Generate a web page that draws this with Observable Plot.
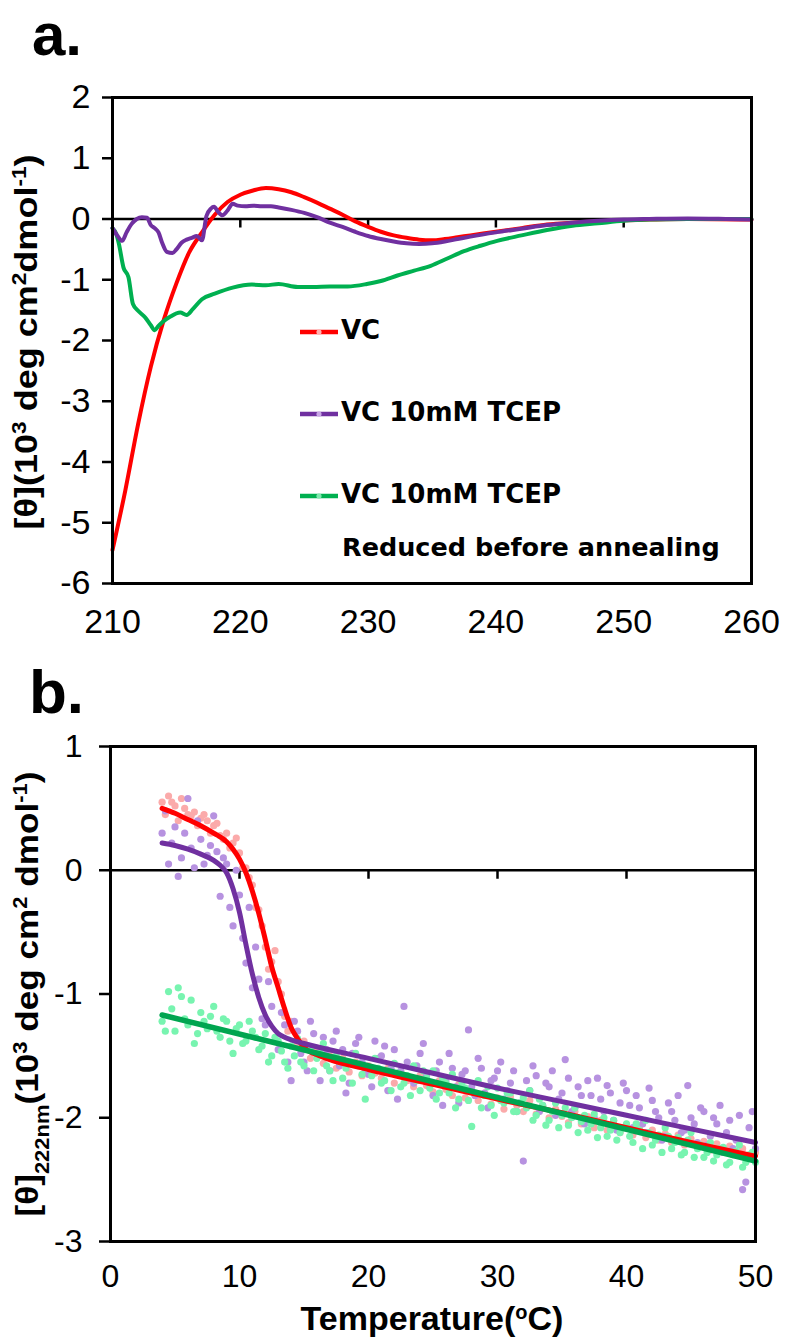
<!DOCTYPE html>
<html><head><meta charset="utf-8">
<script src="https://cdn.jsdelivr.net/npm/d3@7"></script>
<script src="https://cdn.jsdelivr.net/npm/@observablehq/plot@0.6"></script>
<style>
body{margin:0;background:#fff;}
#wrap{position:relative;width:786px;height:1342px;overflow:hidden;background:#fff;}
#pa{position:absolute;left:0;top:0;}
#pb{position:absolute;left:0;top:660px;}
.plabel{position:absolute;font-family:"Liberation Sans",Arial,sans-serif;font-weight:bold;line-height:50px;height:50px;color:#000;white-space:nowrap;}
</style></head><body><div id="wrap"><div id="pa"></div><div id="pb"></div>
<div class="plabel" id="labA" style="left:32px;top:10px;font-size:60px;">a.</div>
<div class="plabel" id="labB" style="left:29px;top:667px;font-size:62px;">b.</div>
</div>
<script>
// ---------- Panel a: CD spectra ----------
const waveTicks = [210, 220, 230, 240, 250, 260];
const zeroTicksA = [220, 230, 240, 250];
const thetaTicksA = [-6, -5, -4, -3, -2, -1, 0, 1, 2];

const vcWave = [210,211,212,213,214,215,216,217,218,219,220,221,222,223,224,225,226,227,228,229,230,231,232,233,234,235,236,237,238,240,242,244,246,248,250,252,255,260];
const vcTheta = [-5.45,-4.47,-3.38,-2.43,-1.67,-1.06,-0.55,-0.22,0.07,0.28,0.40,0.47,0.51,0.49,0.44,0.36,0.27,0.17,0.07,-0.04,-0.13,-0.21,-0.27,-0.31,-0.34,-0.35,-0.33,-0.30,-0.27,-0.21,-0.15,-0.09,-0.06,-0.04,-0.02,-0.01,0.0,-0.01];

const tcepWave = [210,210.4,210.75,211.1,211.5,211.9,212.3,212.7,213.0,213.3,213.6,213.9,214.25,214.7,215.0,215.4,215.8,216.2,216.6,217.0,217.35,217.7,217.95,218.25,218.6,219.0,219.4,219.8,220.4,221,221.7,222.4,223,224,225,226,227,228,229,230,231,232,233,234,235,236,237,238,240,242,244,246,248,250,252,255,258,260];
const tcepTheta = [-0.15,-0.28,-0.36,-0.22,-0.08,0.0,0.03,0.02,-0.10,-0.15,-0.22,-0.40,-0.54,-0.56,-0.50,-0.39,-0.34,-0.31,-0.28,-0.35,0.05,0.17,0.20,0.12,0.06,0.14,0.25,0.22,0.21,0.22,0.21,0.21,0.19,0.15,0.10,0.03,-0.06,-0.13,-0.21,-0.28,-0.33,-0.37,-0.40,-0.41,-0.40,-0.37,-0.33,-0.29,-0.22,-0.16,-0.10,-0.06,-0.03,-0.01,0.0,0.01,0.0,-0.01];

const redWave = [210,210.3,210.5,210.86,211.25,211.6,212.0,212.56,213.0,213.3,213.6,213.9,214.5,215.3,215.8,216.3,217.0,218.0,219.4,220.9,222,223,224.5,225.7,227,228.4,229.9,231,232.3,233.6,234.9,236.2,237.5,238.8,240.1,242,244,246,248,250,252,255,260];
const redTheta = [-0.15,-0.25,-0.41,-0.80,-0.96,-1.40,-1.51,-1.62,-1.75,-1.83,-1.76,-1.70,-1.61,-1.54,-1.58,-1.48,-1.32,-1.23,-1.13,-1.08,-1.09,-1.07,-1.12,-1.12,-1.11,-1.11,-1.07,-1.02,-0.93,-0.85,-0.77,-0.65,-0.53,-0.44,-0.36,-0.27,-0.18,-0.11,-0.07,-0.03,-0.01,0.0,0.0];

const seriesNamesA = ["VC", "VC 10mM TCEP", "VC 10mM TCEP"];
const legendNoteA = "Reduced before annealing";

// ---------- Panel b: thermal melts ----------
const tempTicks = [0, 10, 20, 30, 40, 50];
const zeroTicksB = [10, 20, 30, 40];
const thetaTicksB = [-3, -2, -1, 0, 1];

const tHalf = [4,4.5,5,5.5,6,6.5,7,7.5,8,8.5,9,9.5,10,10.5,11,11.5,12,12.5,13,13.5,14,14.5,15,15.5,16,16.5,17,17.5,18,18.5,19,19.5,20,20.5,21,21.5,22,22.5,23,23.5,24,24.5,25,25.5,26,26.5,27,27.5,28,28.5,29,29.5,30,30.5,31,31.5,32,32.5,33,33.5,34,34.5,35,35.5,36,36.5,37,37.5,38,38.5,39,39.5,40,40.5,41,41.5,42,42.5,43,43.5,44,44.5,45,45.5,46,46.5,47,47.5,48,48.5,49,49.5,50];
const tQuarter = [4.25,4.75,5.25,5.75,6.25,6.75,7.25,7.75,8.25,8.75,9.25,9.75,10.25,10.75,11.25,11.75,12.25,12.75,13.25,13.75,14.25,14.75,15.25,15.75,16.25,16.75,17.25,17.75,18.25,18.75,19.25,19.75,20.25,20.75,21.25,21.75,22.25,22.75,23.25,23.75,24.25,24.75,25.25,25.75,26.25,26.75,27.25,27.75,28.25,28.75,29.25,29.75,30.25,30.75,31.25,31.75,32.25,32.75,33.25,33.75,34.25,34.75,35.25,35.75,36.25,36.75,37.25,37.75,38.25,38.75,39.25,39.75,40.25,40.75,41.25,41.75,42.25,42.75,43.25,43.75,44.25,44.75,45.25,45.75,46.25,46.75,47.25,47.75,48.25,48.75,49.25,49.75];

const vcPoints = [0.55,0.60,0.52,0.58,0.45,0.47,0.42,0.40,0.36,0.28, 0.30,0.22,0.14,0.02,-0.12,-0.32,-0.62,-0.74,-0.90,-1.18, -1.22,-1.40,-1.38,-1.52,-1.44,-1.56,-1.50,-1.60,-1.52,-1.63, -1.55,-1.66,-1.58,-1.64,-1.68,-1.60,-1.72,-1.63,-1.70,-1.75, -1.66,-1.74,-1.79,-1.70,-1.77,-1.82,-1.73,-1.84,-1.78,-1.86, -1.80,-1.89,-1.84,-1.93,-1.83,-1.90,-1.95,-1.86,-1.97,-1.91, -2.00,-1.93,-1.99,-2.04,-1.95,-2.05,-1.99,-2.08,-2.02,-2.10, -2.03,-2.12,-2.06,-2.14,-2.08,-2.16,-2.10,-2.18,-2.13,-2.20, -2.14,-2.22,-2.17,-2.24,-2.19,-2.26,-2.21,-2.28,-2.23,-2.30, -2.25,-2.32,-2.28];
const vcExtraT = [4.25,4.75,5.25,5.75,6.25,6.75,7.25,7.75,8.25,8.75,9.25,9.75,10.25,10.75,11.25,11.75,12.25,12.75,13.25,13.75];
const vcExtra = [0.45,0.55,0.40,0.50,0.44,0.36,0.45,0.30,0.38,0.25,0.18,0.26,0.02,-0.06,-0.30,-0.45,-0.80,-0.65,-1.00,-1.30];

const tcepPointsA = [0.30,0.05,0.35,0.10,0.58,0.02,0.25,0.12,0.44,-0.21, 0.05,-0.45,-0.20,-0.75,-0.95,-0.88,-1.25,-1.10,-1.45,-1.25, -1.70,-1.30,-1.55,-1.22,-1.48,-1.35,-1.62,-1.30,-1.45,-1.72, -1.40,-1.55,-1.65,-1.38,-1.50,-1.78,-1.45,-1.62,-1.55,-1.72, -1.48,-1.66,-1.82,-1.55,-1.70,-1.60,-1.88,-1.62,-1.75,-1.52, -1.80,-1.70,-1.62,-1.85,-1.72,-1.95,-2.35,-1.78,-1.66,-1.90, -1.75,-1.98,-1.80,-1.68,-1.92,-1.82,-1.70,-2.00,-1.85,-1.74, -2.02,-1.88,-1.78,-2.08,-1.92,-2.12,-1.86,-2.00,-2.15,-1.95, -1.82,-2.10,-2.00,-2.20,-1.95,-2.15,-2.05,-2.28,-2.02,-2.18, -2.58,-2.08,-2.25];
const tcepPointsB = [0.48,0.22,-0.05,0.30,0.18,0.40,0.05,0.20,0.15,0.10, -0.30,0.00,-0.55,-0.30,-0.62,-1.20,-0.90,-1.38,-1.15,-1.55, -1.22,-1.48,-1.62,-1.32,-1.70,-1.45,-1.38,-1.58,-1.80,-1.48, -1.35,-1.62,-1.75,-1.52,-1.42,-1.60,-1.85,-1.10,-1.68,-1.58, -1.40,-1.72,-1.62,-1.90,-1.48,-1.75,-1.65,-1.29,-1.82,-1.60, -1.92,-1.68,-1.55,-1.78,-1.62,-1.88,-1.70,-1.58,-1.95,-1.72, -1.62,-1.85,-1.53,-1.95,-1.75,-2.05,-1.82,-1.68,-1.95,-1.80, -2.10,-1.72,-1.90,-1.82,-2.05,-1.76,-1.95,-2.18,-1.88,-2.02, -2.12,-1.74,-2.05,-1.92,-2.22,-2.00,-1.90,-2.12,-2.25,-1.98, -2.52,-1.95];

const redPointsA = [-1.22,-0.98,-1.30,-1.02,-1.25,-1.40,-1.15,-1.28,-1.10,-1.35, -1.22,-1.48,-1.25,-1.38,-1.30,-1.45,-1.32,-1.50,-1.38,-1.55, -1.42,-1.36,-1.58,-1.45,-1.52,-1.40,-1.62,-1.50,-1.68,-1.55, -1.48,-1.65,-1.60,-1.52,-1.72,-1.62,-1.56,-1.75,-1.66,-1.58, -1.78,-1.68,-1.62,-1.80,-1.72,-1.65,-1.85,-1.76,-2.07,-1.70, -1.82,-1.90,-1.76,-1.88,-1.80,-1.95,-1.84,-1.78,-1.98,-1.90, -2.02,-1.88,-1.98,-2.06,-1.92,-2.03,-2.10,-1.97,-2.08,-2.15, -2.02,-2.12,-2.05,-2.20,-2.10,-2.02,-2.22,-2.14,-2.08,-2.25, -2.16,-2.28,-2.12,-2.25,-2.32,-2.20,-2.30,-2.24,-2.36,-2.27, -2.40,-2.30,-2.36];
const redPointsB = [-1.30,-1.12,-0.95,-1.20,-1.05,-1.32,-1.22,-1.18,-1.30,-1.20, -1.38,-1.28,-1.40,-1.22,-1.35,-1.42,-1.55,-1.35,-1.46,-1.60, -1.50,-1.55,-1.42,-1.62,-1.48,-1.58,-1.70,-1.55,-1.60,-1.72, -1.58,-1.85,-1.66,-1.60,-1.70,-1.78,-1.64,-1.72,-1.82,-1.70, -1.62,-1.76,-1.85,-1.68,-1.80,-1.92,-1.72,-1.86,-1.80,-1.92, -1.75,-1.98,-1.86,-1.80,-1.95,-1.88,-1.92,-2.02,-1.85,-2.06, -1.95,-2.08,-1.92,-2.00,-2.12,-1.98,-2.05,-2.16,-2.00,-2.10, -2.18,-2.08,-2.15,-2.05,-2.25,-2.12,-2.18,-2.28,-2.15,-2.20, -2.30,-2.18,-2.32,-2.22,-2.28,-2.35,-2.25,-2.38,-2.30,-2.22, -2.36,-2.28];

const vcFitT = [4,5,6,7,8,9,9.5,10,10.5,11,11.5,12,12.5,13,13.5,14,14.5,15,15.5,16,17,20,25,30,35,40,45,50];
const vcFit = [0.50,0.46,0.41,0.36,0.30,0.23,0.17,0.09,-0.02,-0.17,-0.35,-0.56,-0.78,-0.95,-1.12,-1.27,-1.36,-1.43,-1.47,-1.49,-1.53,-1.61,-1.73,-1.85,-1.96,-2.08,-2.20,-2.31];
const tcepFitT = [4,5,6,7,8,8.5,9,9.5,10,10.5,11,11.5,12,12.5,13,13.5,14,15,20,25,30,35,40,45,50];
const tcepFit = [0.22,0.20,0.17,0.13,0.08,0.04,-0.02,-0.15,-0.34,-0.60,-0.84,-1.03,-1.17,-1.26,-1.32,-1.35,-1.37,-1.40,-1.52,-1.64,-1.76,-1.87,-1.98,-2.09,-2.20];
const redFitT = [4, 50];
const redFit = [-1.17, -2.35];

// ---------- helpers ----------
const pts = (xs, ys) => xs.slice(0, Math.min(xs.length, ys.length)).map((x, i) => ({x, y: ys[i]}));
const FONT = "Liberation Sans, Arial, Helvetica, sans-serif";
const LEG = "DejaVu Sans, Verdana, sans-serif";
const C = {red: "#ff0000", purple: "#7030a0", green: "#00b050", pink: "#fbaaaa", lav: "#b792e0", mint: "#78f4b0", green2: "#00a550"};

function rotLabel(svg, cx, cy, parts, size, len) {
  const t = d3.select(svg).append("text")
    .attr("transform", `translate(${cx},${cy}) rotate(-90)`)
    .attr("text-anchor", "middle").attr("font-family", FONT)
    .attr("font-weight", "bold").attr("font-size", size).attr("fill", "black")
    .attr("textLength", len).attr("lengthAdjust", "spacingAndGlyphs");
  parts.forEach(p => {
    const s = t.append("tspan").text(p.t);
    if (p.s) s.attr("font-size", Math.round(size * 0.62)).attr("baseline-shift", p.s === "sup" ? "super" : "sub");
  });
  return t;
}
function plainText(sel, x, y, str, size, family, weight) {
  return sel.append("text").attr("x", x).attr("y", y).attr("text-anchor", "start")
    .attr("font-family", family).attr("font-weight", weight).attr("font-size", size)
    .attr("fill", "black").text(str);
}

// ---------- Panel a ----------
const chartA = Plot.plot({
  width: 786, height: 660,
  marginTop: 97, marginLeft: 112, marginRight: 35, marginBottom: 77,
  x: {domain: [210, 260]},
  y: {domain: [-6, 2]},
  style: {fontFamily: FONT, fontSize: "34px", color: "black", background: "white", overflow: "visible"},
  marks: [
    Plot.ruleY([0], {strokeWidth: 2.5}),
    Plot.ruleX(zeroTicksA, {x: d => d, y1: 0, y2: 0, insetBottom: -9, strokeWidth: 2.5}),
    Plot.axisY({ticks: thetaTicksA, tickSize: 10, tickPadding: 12, strokeWidth: 2.5, tickFormat: d => String(d), label: null, fontSize: 34}),
    Plot.axisX({ticks: waveTicks, tickSize: 0, tickPadding: 25, tickFormat: d => String(d), label: null, fontSize: 34}),
    Plot.line(pts(vcWave, vcTheta), {x: "x", y: "y", stroke: C.red, strokeWidth: 4, curve: "monotone-x"}),
    Plot.line(pts(redWave, redTheta), {x: "x", y: "y", stroke: C.green, strokeWidth: 4, curve: "monotone-x"}),
    Plot.line(pts(tcepWave, tcepTheta), {x: "x", y: "y", stroke: C.purple, strokeWidth: 4, curve: "monotone-x"}),
    Plot.frame({strokeWidth: 3})
  ]
});
document.getElementById("pa").appendChild(chartA);
{
  const svg = d3.select(chartA);
  rotLabel(chartA, 37, 342, [{t: "[θ](10"}, {t: "3", s: "sup"}, {t: " deg cm"}, {t: "2", s: "sup"}, {t: "dmol"}, {t: "-1", s: "sup"}, {t: ")"}], 32, 375);
  const legY = [332, 414, 496];
  const legC = [C.red, C.purple, C.green];
  const legDot = ["#ffb0b0", "#c9a6e6", "#7ee8ae"];
  legY.forEach((y, i) => {
    svg.append("line").attr("x1", 300).attr("x2", 338).attr("y1", y).attr("y2", y)
      .attr("stroke", legC[i]).attr("stroke-width", 4.5);
    svg.append("circle").attr("cx", 319).attr("cy", y).attr("r", 2.6).attr("fill", legDot[i]);
    plainText(svg, 341, y + 7, seriesNamesA[i], 26, LEG, "bold");
  });
  plainText(svg, 342, 556, legendNoteA, 25.5, LEG, "bold");
}

// ---------- Panel b ----------
const chartB = Plot.plot({
  width: 786, height: 682,
  marginTop: 86, marginLeft: 110, marginRight: 31, marginBottom: 101,
  x: {domain: [0, 50]},
  y: {domain: [-3, 1]},
  style: {fontFamily: FONT, fontSize: "32px", color: "black", background: "white", overflow: "visible"},
  marks: [
    Plot.ruleY([0], {strokeWidth: 2.5}),
    Plot.ruleX(zeroTicksB, {x: d => d, y1: 0, y2: 0, insetBottom: -9, strokeWidth: 2.5}),
    Plot.dot(pts(tHalf, vcPoints), {x: "x", y: "y", r: 3.6, fill: C.pink}),
    Plot.dot(pts(vcExtraT, vcExtra), {x: "x", y: "y", r: 3.6, fill: C.pink}),
    Plot.dot(pts(tHalf, tcepPointsA), {x: "x", y: "y", r: 3.6, fill: C.lav}),
    Plot.dot(pts(tQuarter, tcepPointsB), {x: "x", y: "y", r: 3.6, fill: C.lav}),
    Plot.dot(pts(tHalf, redPointsA), {x: "x", y: "y", r: 3.6, fill: C.mint}),
    Plot.dot(pts(tQuarter, redPointsB), {x: "x", y: "y", r: 3.6, fill: C.mint}),
    Plot.line(pts(vcFitT, vcFit), {x: "x", y: "y", stroke: C.red, strokeWidth: 5, curve: "monotone-x"}),
    Plot.line(pts(tcepFitT, tcepFit), {x: "x", y: "y", stroke: C.purple, strokeWidth: 5, curve: "monotone-x"}),
    Plot.line(pts(redFitT, redFit), {x: "x", y: "y", stroke: C.green2, strokeWidth: 5.5}),
    Plot.axisY({ticks: thetaTicksB, tickSize: 11, tickPadding: 17, strokeWidth: 2.5, tickFormat: d => String(d), label: null, fontSize: 32}),
    Plot.axisX({ticks: tempTicks, tickSize: 0, tickPadding: 23, tickFormat: d => String(d), label: null, fontSize: 32}),
    Plot.frame({strokeWidth: 3})
  ]
});
document.getElementById("pb").appendChild(chartB);
{
  const svg = d3.select(chartB);
  rotLabel(chartB, 38, 334, [{t: "[θ]"}, {t: "222nm", s: "sub"}, {t: "(10"}, {t: "3", s: "sup"}, {t: " deg cm"}, {t: "2", s: "sup"}, {t: " dmol"}, {t: "-1", s: "sup"}, {t: ")"}], 32, 445);
  const t = svg.append("text").attr("x", 432).attr("y", 670).attr("text-anchor", "middle")
    .attr("font-family", FONT).attr("font-weight", "bold").attr("font-size", 34).attr("fill", "black");
  t.append("tspan").text("Temperature(");
  t.append("tspan").text("o").attr("font-size", 20).attr("baseline-shift", "super");
  t.append("tspan").text("C)");
}
</script></body></html>
